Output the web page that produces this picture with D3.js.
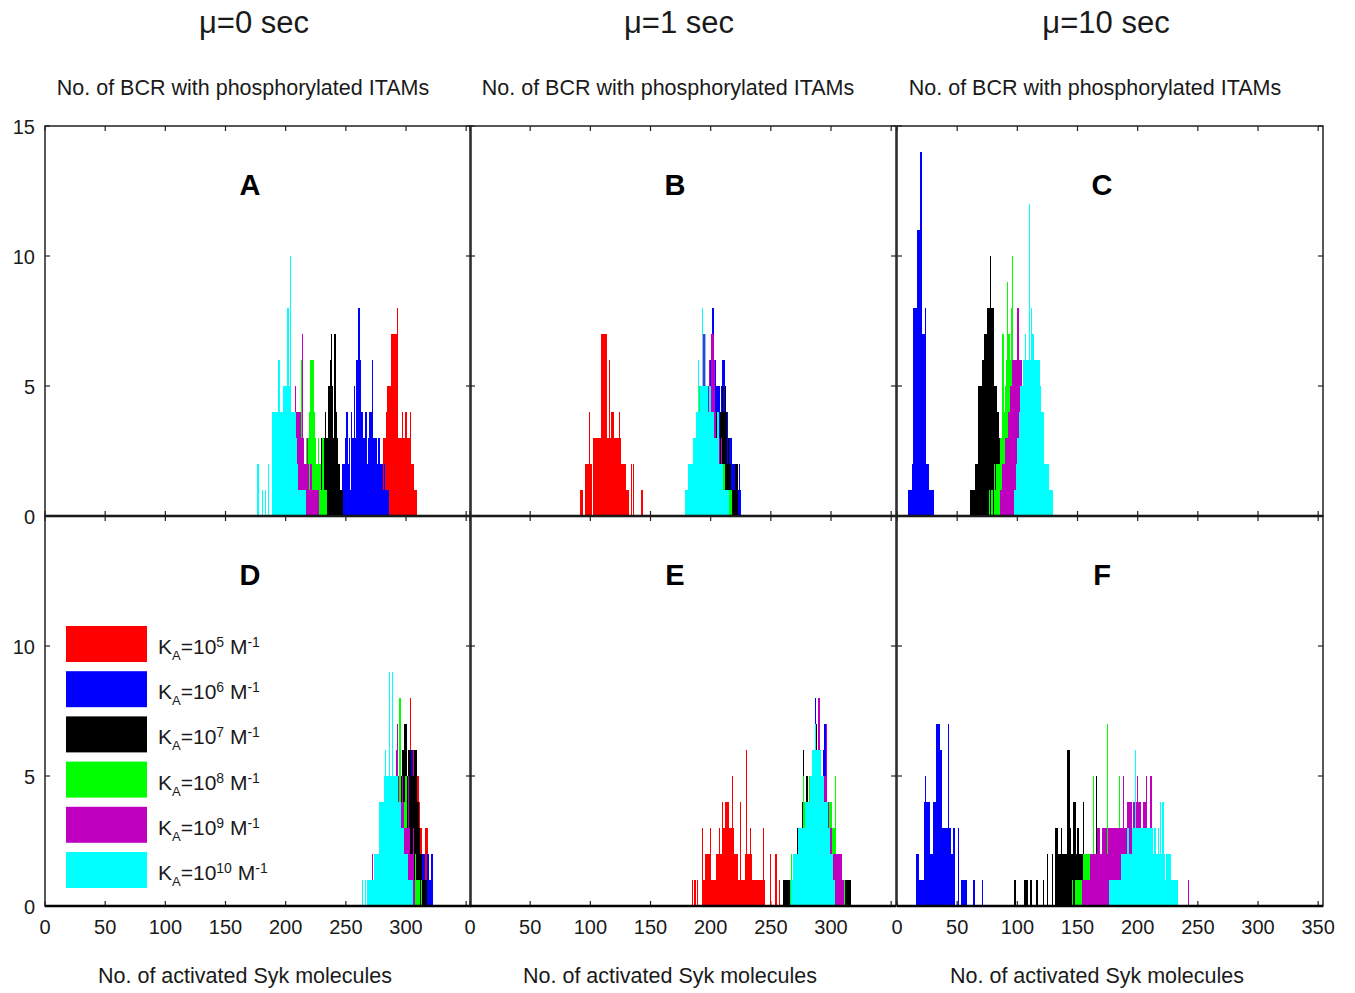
<!DOCTYPE html>
<html>
<head>
<meta charset="utf-8">
<script src="https://cdn.jsdelivr.net/npm/d3@7"></script>
<style>
  body { margin: 0; background: #fff; }
  svg { display: block; font-family: "Liberation Sans", Arial, Helvetica, sans-serif; }
</style>
</head>
<body>
<div id="chart"></div>
<script>
// ---- labels ----
const muTitles = ["μ=0 sec", "μ=1 sec", "μ=10 sec"];
const topLabel = "No. of BCR with phosphorylated ITAMs";
const bottomLabel = "No. of activated Syk molecules";
const panelLetters = ["A", "B", "C", "D", "E", "F"];
const xTicks = [0, 50, 100, 150, 200, 250, 300, 350];
const yTicks = [0, 5, 10, 15];
const seriesColors = ["#ff0000", "#0000ff", "#000000", "#00ff00", "#bf00bf", "#00ffff"];
const seriesExp = ["5", "6", "7", "8", "9", "10"];

// ---- histogram counts, one bin per integer value ----
// order of every *_start array: red, blue, black, green, magenta, cyan
const A_start = [280, 246, 226, 210, 192, 177];
const A_red = [2,3,3,3,4,5,5,5,7,7,7,7,7,8,3,3,3,4,3,3,4,3,3,3,4,2,2,1,1,1];
const A_blue = [1,2,2,2,3,4,2,3,1,4,3,5,3,6,6,8,6,4,4,3,4,4,2,3,4,4,6,3,3,3,2,3,3,2,2,1,2,1,1,1];
const A_black = [1,1,2,1,3,2,3,4,3,3,5,6,7,5,3,7,4,3,2,2,1,1];
const A_green = [1,2,3,6,5,3,2,3,3,3,4,6,6,6,4,3,2,3,2,2,1,3,1,1,1];
const A_magenta = [1,2,2,3,3,2,4,4,5,4,3,4,4,4,4,3,5,4,4,4,4,3,7,3,2,2,3,2,1,2,1,1,1,1,1,1];
const A_cyan = [2,0,0,0,1,0,1,0,0,2,0,0,4,4,4,4,4,6,6,4,4,5,5,5,5,8,5,10,4,4,4,4,3,2,1,1,1,1,1,1];

const B_start = [92, 187, 184, 183, 179, 179];
const B_red = [1,1,0,0,2,2,2,4,2,2,0,3,3,3,3,3,3,7,7,7,7,7,3,3,6,3,4,4,3,3,3,3,4,3,2,2,2,2,1,1,1,0,2,0,2,0,0,0,0,0,0,1];
const B_blue = [1,1,2,2,2,3,3,4,4,4,5,5,5,6,7,8,6,6,5,5,5,4,5,6,6,4,4,4,3,3,3,2,2,2,1,1,1,2,1];
const B_black = [1,2,1,2,2,3,3,3,4,4,4,5,4,4,5,4,4,4,4,4,4,4,3,3,4,4,5,4,5,4,2,3,2,1,1,1,1,2,2];
const B_green = [1,2,2,2,3,4,4,4,5,5,5,6,6,5,5,5,4,4,4,4,3,3,3,3,2,2,2,2,2,1,1,1,1,1,1];
const B_magenta = [1,1,1,1,2,2,2,3,3,4,3,4,4,5,6,7,7,5,5,5,6,5,7,7,6,4,3,4,3,2,3,2,1,1];
const B_cyan = [1,1,1,2,2,2,2,3,3,4,4,6,4,5,8,5,5,7,5,4,5,5,4,4,3,3,3,4,2,2,2,2,1,1,1,1,1];

const C_start = [0, 10, 61, 77, 86, 98];
const C_red = [];
const C_blue = [1,1,1,2,8,8,8,11,11,11,14,7,7,7,8,2,2,1,1,1,1];
const C_black = [1,1,1,1,2,2,2,5,5,5,6,6,7,7,8,8,8,10,8,8,5,5,5,4,3,3,3,1];
const C_green = [1,0,1,0,2,1,2,2,2,3,3,7,4,5,6,9,7,6,8,10,6,5,4,3,3,2,2,1,1,1];
const C_magenta = [1,1,2,2,3,3,3,4,5,5,6,6,6,6,8,8,6,6,5,4,3,3,2,2,1,1];
const C_cyan = [1,2,3,3,4,5,5,6,6,7,6,6,12,6,8,7,6,6,6,6,6,5,4,4,4,2,2,2,2,1,1,1];

const D_start = [291, 293, 285, 279, 271, 264];
const D_red = [1,1,2,2,2,3,3,3,4,4,5,5,6,8,6,6,6,6,6,5,4,3,3,2,2,3,3,3,1];
const D_blue = [1,1,2,2,2,3,3,3,4,4,5,6,6,5,5,4,4,3,3,2,2,2,2,1,1,2,2,1,2,2];
const D_black = [1,1,1,2,2,3,3,3,4,4,5,5,6,6,7,7,5,6,6,6,5,5,6,6,6,4,3,2,2,1,1,1,1];
const D_green = [1,1,2,2,2,3,3,3,4,4,4,4,5,5,5,5,8,4,4,4,4,5,3,3,3,2,2,2,1,2,1,1,1,0,1];
const D_magenta = [1,2,1,1,2,2,2,3,3,4,4,4,6,5,5,4,4,5,5,5,5,6,7,5,4,4,5,4,3,3,3,5,3,2,2,3,1];
const D_cyan = [1,0,1,0,1,1,1,1,1,1,2,2,2,2,4,4,4,4,5,6,5,5,9,5,5,9,5,5,5,5,4,4,3,3,3,2,2,2,1,1,1,1];

const E_start = [185, 270, 261, 266, 272, 267];
const E_red = [1,0,1,0,1,0,0,0,3,1,1,2,2,2,2,3,1,1,1,1,2,2,3,2,2,4,3,4,4,4,4,3,3,5,3,2,2,2,1,1,4,1,1,1,2,6,2,2,3,2,1,1,1,1,1,1,1,1,1,3,1,0,0,0,0,2,0,0,0,2,2,0,1];
const E_blue = [1,1,2,3,3,3,3,3,4,4,4,4,5,5,5,6,6,8,6,6,6,5,5,5,6,7,5,4,4,3,3,3,2,2,2,2,2,2,2,2,1,1,1,1,1,1,1];
const E_black = [1,1,1,1,1,1,1,1,2,2,2,3,3,3,3,4,6,4,4,5,4,4,5,5,5,4,6,7,6,4,5,4,4,4,3,3,3,2,2,2,1,1,1,1,1,1,1,1,1,1,1,1,1,1,1,1];
const E_green = [1,2,1,2,2,2,2,3,3,3,3,5,4,4,4,4,5,5,5,5,5,5,5,5,4,4,4,4,4,4,3,3,3,4,4,3,3,3,5,2,1,1,1,1,1,1];
const E_magenta = [1,1,1,2,2,2,3,3,4,3,3,4,4,4,5,5,5,5,8,5,5,5,5,5,7,4,4,3,3,2,2,2,2,2,2,2,2,2,1];
const E_cyan = [1,1,2,2,2,2,3,3,3,3,3,3,4,4,4,4,5,5,6,6,7,6,6,6,6,5,5,5,4,4,4,3,3,2,2,1,1];

const F_start = [0, 16, 98, 146, 154, 177];
const F_red = [];
const F_blue = [2,2,2,1,1,1,1,4,5,4,4,4,2,2,4,4,4,7,7,7,6,6,3,3,3,3,3,7,3,2,2,3,3,0,0,3,0,0,1,1,1,1,1,0,0,0,0,0,1,0,0,0,0,0,0,1];
const F_black = [1,0,0,0,0,0,0,0,1,1,1,0,0,1,1,0,0,0,1,1,0,0,0,0,1,0,0,2,0,0,0,2,0,0,3,3,2,2,2,3,2,2,2,2,6,6,3,2,2,4,4,2,3,3,2,2,2,4,2,2,2,2,1,1,1,1,2,2,5,1];
const F_green = [1,0,1,1,1,1,1,1,1,2,2,2,2,2,2,2,2,5,2,2,2,3,3,2,2,3,3,3,3,7,3,3,3,3,3,2,2,2,2,5,2,2,1,1,1];
const F_magenta = [1,1,1,1,1,1,1,2,2,2,2,2,2,3,3,2,2,3,3,3,3,2,3,3,3,3,3,3,3,3,3,3,3,3,5,3,3,3,4,4,4,4,3,4,4,4,5,4,4,3,3,4,4,5,3,3,3,5,3,2,2,2,2,2,1,1,1,1,1,0,0,0,0,0,0,0,0,0,0,0,0,0,0,0,0,0,0,0,1];
const F_cyan = [1,1,1,1,1,1,1,1,1,1,2,2,2,2,2,3,2,2,2,3,3,6,3,3,3,3,3,3,3,3,3,3,3,3,3,3,2,3,3,2,3,2,4,2,4,2,1,2,2,2,2,1,1,1,1,1,1];

const panels = [
  { starts: A_start, series: [A_red, A_blue, A_black, A_green, A_magenta, A_cyan] },
  { starts: B_start, series: [B_red, B_blue, B_black, B_green, B_magenta, B_cyan] },
  { starts: C_start, series: [C_red, C_blue, C_black, C_green, C_magenta, C_cyan] },
  { starts: D_start, series: [D_red, D_blue, D_black, D_green, D_magenta, D_cyan] },
  { starts: E_start, series: [E_red, E_blue, E_black, E_green, E_magenta, E_cyan] },
  { starts: F_start, series: [F_red, F_blue, F_black, F_green, F_magenta, F_cyan] }
];

// ---- layout ----
const width = 1355, height = 993;
const colLeft = [45, 470, 897];
const rowTop = [126, 516];
const panelW = 426, panelH = 390;
const tickLen = 5;
const textColor = "#1a1a1a";

const svg = d3.select("#chart").append("svg")
  .attr("width", width)
  .attr("height", height);

// column titles and axis labels
muTitles.forEach((t, c) => {
  svg.append("text")
    .attr("x", colLeft[c] + 209).attr("y", 33)
    .attr("text-anchor", "middle")
    .attr("font-size", 31)
    .attr("fill", textColor)
    .text(t);
  svg.append("text")
    .attr("x", colLeft[c] + 198).attr("y", 95)
    .attr("text-anchor", "middle")
    .attr("font-size", 21.5)
    .attr("fill", textColor)
    .text(topLabel);
  svg.append("text")
    .attr("x", colLeft[c] + 200).attr("y", 983)
    .attr("text-anchor", "middle")
    .attr("font-size", 21.5)
    .attr("fill", textColor)
    .text(bottomLabel);
});

panels.forEach((p, k) => {
  const col = k % 3, row = Math.floor(k / 3);
  const x = d3.scaleLinear().domain([0, 354]).range([colLeft[col], colLeft[col] + panelW]);
  const y = d3.scaleLinear().domain([0, 15]).range([rowTop[row] + panelH, rowTop[row]]);
  const g = svg.append("g");

  // ticks on all four sides, pointing inward
  const gt = g.append("g").attr("stroke", "#222").attr("stroke-width", 1.2);
  xTicks.forEach(v => {
    gt.append("line").attr("x1", x(v)).attr("x2", x(v))
      .attr("y1", y(0)).attr("y2", y(0) - tickLen);
    gt.append("line").attr("x1", x(v)).attr("x2", x(v))
      .attr("y1", y(15)).attr("y2", y(15) + tickLen);
  });
  yTicks.forEach(v => {
    gt.append("line").attr("x1", x.range()[0]).attr("x2", x.range()[0] + tickLen)
      .attr("y1", y(v)).attr("y2", y(v));
    gt.append("line").attr("x1", x.range()[1]).attr("x2", x.range()[1] - tickLen)
      .attr("y1", y(v)).attr("y2", y(v));
  });

  // histogram bars, drawn in legend order so cyan ends up on top;
  // bin edges snapped to whole pixels so thin spikes stay crisp
  p.series.forEach((counts, s) => {
    const bins = counts.map((c, i) => ({ v: p.starts[s] + i, c }))
      .filter(d => d.c > 0);
    g.append("g")
      .attr("fill", seriesColors[s])
      .attr("shape-rendering", "crispEdges")
      .selectAll("rect")
      .data(bins)
      .join("rect")
        .attr("x", d => Math.round(x(d.v - 0.5)))
        .attr("width", d => Math.max(1, Math.round(x(d.v + 0.5)) - Math.round(x(d.v - 0.5))))
        .attr("y", d => Math.round(y(d.c)))
        .attr("height", d => Math.round(y(0)) - Math.round(y(d.c)));
  });

  // box
  g.append("rect")
    .attr("x", x.range()[0]).attr("y", y(15))
    .attr("width", panelW).attr("height", panelH)
    .attr("fill", "none").attr("stroke", "#222").attr("stroke-width", 1.5);
  // bar baseline
  g.append("line")
    .attr("x1", x.range()[0]).attr("x2", x.range()[1])
    .attr("y1", y(0)).attr("y2", y(0))
    .attr("stroke", "#000").attr("stroke-width", 2.6);

  // panel letter
  g.append("text")
    .attr("x", colLeft[col] + 205).attr("y", rowTop[row] + 69)
    .attr("text-anchor", "middle")
    .attr("font-size", 29).attr("font-weight", "bold")
    .attr("fill", "#000")
    .text(panelLetters[k]);

  // tick labels
  if (row === 1) {
    xTicks.filter(v => col === 2 || v < 350).forEach(v => {
      g.append("text")
        .attr("x", x(v)).attr("y", 934)
        .attr("text-anchor", "middle")
        .attr("font-size", 20).attr("fill", textColor)
        .text(v);
    });
  }
  if (col === 0) {
    yTicks.filter(v => row === 0 || v < 15).forEach(v => {
      g.append("text")
        .attr("x", 35).attr("y", y(v) + 8)
        .attr("text-anchor", "end")
        .attr("font-size", 20).attr("fill", textColor)
        .text(v);
    });
  }
});

// legend inside panel D
const legend = svg.append("g");
seriesColors.forEach((col, i) => {
  const top = 626 + i * 45.2;
  legend.append("rect")
    .attr("x", 66).attr("y", top)
    .attr("width", 81).attr("height", 36)
    .attr("fill", col);
  const t = legend.append("text")
    .attr("x", 158).attr("y", top + 28)
    .attr("font-size", 21).attr("fill", textColor);
  t.append("tspan").text("K");
  t.append("tspan").attr("font-size", 13).attr("dy", 6).text("A");
  t.append("tspan").attr("dy", -6).text("=10");
  t.append("tspan").attr("font-size", 14).attr("dy", -7).text(seriesExp[i]);
  t.append("tspan").attr("dy", 7).text(" M");
  t.append("tspan").attr("font-size", 14).attr("dy", -7).text("-1");
});
</script>
</body>
</html>
